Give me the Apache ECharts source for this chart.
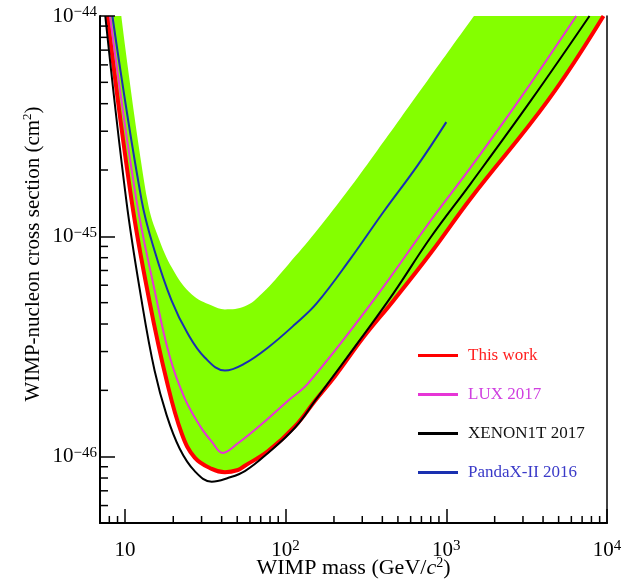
<!DOCTYPE html>
<html>
<head>
<meta charset="utf-8">
<script src="https://cdn.jsdelivr.net/npm/echarts@6/dist/echarts.min.js"></script>
<style>
html,body{margin:0;padding:0;background:#fff;}
#chart{width:625px;height:582px;}
</style>
</head>
<body>
<div id="chart"></div>
<script>
// ---------------- data ----------------
// WIMP mass in GeV/c^2, cross section in cm^2
const thisWorkMass = [7.78, 11.0, 14.2, 18.2, 22.6, 27.2, 34.7, 41.9, 50.5, 55.8, 77.8, 115, 153, 204, 305, 470, 800, 1422, 4305, 9510];
const thisWorkXsec = [1.0e-44, 1.46e-45, 5.1e-46, 2.21e-46, 1.27e-46, 9.9e-47, 8.8e-47, 8.5e-47, 8.7e-47, 9.1e-47, 1.06e-46, 1.38e-46, 1.80e-46, 2.33e-46, 3.48e-46, 5.12e-46, 8.4e-46, 1.49e-45, 4.15e-45, 1.0e-44];

const luxMass = [8.08, 11.8, 15.3, 19.0, 23.5, 29.3, 34.7, 40.6, 50.5, 71.3, 104, 138, 352, 800, 1422, 2837, 6442];
const luxXsec = [1.0e-44, 1.46e-45, 5.7e-46, 2.85e-46, 1.85e-46, 1.38e-46, 1.17e-46, 1.04e-46, 1.15e-46, 1.41e-46, 1.80e-46, 2.15e-46, 5.12e-46, 1.18e-45, 2.06e-45, 4.15e-45, 1.0e-44];

const xenonMass = [7.55, 10.2, 12.7, 15.3, 18.2, 21.9, 27.2, 34.7, 43.7, 55.8, 77.8, 115, 153, 437, 800, 1422, 3374, 7780];
const xenonXsec = [1.0e-44, 1.46e-45, 5.12e-46, 2.46e-46, 1.54e-46, 1.09e-46, 8.6e-47, 7.7e-47, 8.0e-47, 8.6e-47, 1.04e-46, 1.36e-46, 1.80e-46, 5.12e-46, 9.9e-46, 1.74e-45, 4.15e-45, 1.0e-44];

const pandax2016Mass = [8.36, 12.7, 15.3, 19.5, 24.6, 31.4, 41.9, 55.8, 77.8, 115, 156, 253, 406, 663, 1000];
const pandax2016Xsec = [1.0e-44, 1.46e-45, 8.6e-46, 5.12e-46, 3.62e-46, 2.82e-46, 2.46e-46, 2.65e-46, 3.13e-46, 4.0e-46, 4.96e-46, 7.9e-46, 1.29e-45, 2.1e-45, 3.3e-45];

// sensitivity band: upper edge (lower edge follows "This work")
const bandUpperMass = [9.5, 13.8, 16.4, 20.4, 26.1, 34.7, 41.9, 55.8, 71.3, 104, 153, 253, 373, 520, 1486];
const bandUpperXsec = [1.0e-44, 1.46e-45, 9.6e-46, 6.86e-46, 5.45e-46, 4.85e-46, 4.66e-46, 4.81e-46, 5.5e-46, 7.46e-46, 1.04e-45, 1.67e-45, 2.46e-45, 3.44e-45, 1.0e-44];
const bandLowerMass = thisWorkMass;
const bandLowerXsec = thisWorkXsec;

// axis ranges and minor ticks
const X_MIN = 7, X_MAX = 1e4;
const Y_MIN = 5e-47, Y_MAX = 1e-44;
const xMinorTicks = [8, 9, 20, 30, 40, 50, 60, 70, 80, 90, 200, 300, 400, 500, 600, 700, 800, 900, 2000, 3000, 4000, 5000, 6000, 7000, 8000, 9000];
const yMinorTicks = [6e-47, 7e-47, 8e-47, 9e-47, 2e-46, 3e-46, 4e-46, 5e-46, 6e-46, 7e-46, 8e-46, 9e-46, 2e-45, 3e-45, 4e-45, 5e-45, 6e-45, 7e-45, 8e-45, 9e-45];

const legendNames = ['This work', 'LUX 2017', 'XENON1T 2017', 'PandaX-II 2016'];
const lineColors = ['#ff0000', '#e635d6', '#000000', '#1a30b0'];
const legendTextColors = ['#ff2020', '#d040e0', '#111111', '#3a3ac8'];

// ---------------- chart ----------------
const FONT = '"Liberation Serif", "Times New Roman", serif';
const pair = (ms, vs) => ms.map((m, i) => [m, vs[i]]);
// log10(1e-44) is not exactly -44 in floating point; nudge the top bound by a
// negligible amount so the 10^-44 tick falls inside the axis extent
const Y_AXIS_MAX = Y_MAX * 1.000001;

function isPow10(v) {
  if (!(v > 0)) return false;
  const l = Math.log10(v);
  return Math.abs(l - Math.round(l)) < 1e-6;
}

const chart = echarts.init(document.getElementById('chart'), null, { renderer: 'canvas' });

const supRich = {
  b: { fontFamily: FONT, fontSize: 21, color: '#000', lineHeight: 22 },
  s: { fontFamily: FONT, fontSize: 15, color: '#000', lineHeight: 8, verticalAlign: 'top' }
};

const option = {
  animation: false,
  backgroundColor: '#fff',
  grid: { left: 100, right: 18, top: 16, bottom: 59, containLabel: false, outerBoundsMode: 'none' },
  xAxis: [{
    type: 'log', logBase: 10, min: X_MIN, max: X_MAX, z: 10,
    name: '{t|WIMP mass (GeV/}{i|c}{s|2}{t|)}',
    nameLocation: 'middle', nameGap: 33, nameMoveOverlap: false,
    nameTextStyle: {
      rich: {
        t: { fontFamily: FONT, fontSize: 22, color: '#000', lineHeight: 24 },
        i: { fontFamily: FONT, fontSize: 22, fontStyle: 'italic', color: '#000', lineHeight: 24 },
        s: { fontFamily: FONT, fontSize: 14, color: '#000', lineHeight: 10, verticalAlign: 'top' }
      }
    },
    axisLine: { show: true, lineStyle: { color: '#000', width: 2 } },
    axisTick: { show: true, inside: true, length: 14, lineStyle: { color: '#000', width: 1.5 } },
    minorTick: { show: false },
    splitLine: { show: false },
    axisLabel: {
      margin: 16,
      showMinLabel: true, showMaxLabel: true,
      formatter: v => {
        if (!isPow10(v)) return '';
        const e = Math.round(Math.log10(v));
        return e === 1 ? '{b|10}' : '{b|10}{s|' + e + '}';
      },
      rich: supRich
    }
  }, {
    type: 'log', logBase: 10, min: X_MIN, max: X_MAX, position: 'top', z: 10,
    axisLine: { show: true, lineStyle: { color: '#000', width: 1.5 } },
    axisTick: { show: false }, axisLabel: { show: false }, splitLine: { show: false }
  }],
  yAxis: [{
    type: 'log', logBase: 10, min: Y_MIN, max: Y_AXIS_MAX, z: 10,
    axisLine: { show: true, lineStyle: { color: '#000', width: 2 } },
    axisTick: { show: true, inside: true, length: 15, lineStyle: { color: '#000', width: 1.5 } },
    splitLine: { show: false },
    axisLabel: {
      margin: 3, hideOverlap: false,
      showMinLabel: true, showMaxLabel: true,
      formatter: v => {
        if (!isPow10(v)) return '';
        const e = Math.round(Math.log10(v));
        return '{b|10}{s|\u2212' + Math.abs(e) + '}';
      },
      rich: supRich
    }
  }, {
    type: 'log', logBase: 10, min: Y_MIN, max: Y_AXIS_MAX, position: 'right', z: 10,
    axisLine: { show: true, lineStyle: { color: '#000', width: 1.5 } },
    axisTick: { show: false }, axisLabel: { show: false }, splitLine: { show: false }
  }],
  legend: {
    orient: 'vertical', left: 413, top: 342, itemWidth: 40, itemHeight: 3, itemGap: 22,
    icon: 'rect', selectedMode: false,
    textStyle: { fontFamily: FONT, fontSize: 17, padding: [0, 0, 0, 5] },
    data: legendNames.map((n, i) => ({ name: n, textStyle: { color: legendTextColors[i] } }))
  },
  graphic: [{
    type: 'text', x: 33, y: 254, rotation: Math.PI / 2, z: 20,
    style: {
      text: '{t|WIMP-nucleon cross section (cm}{s|2}{t|)}',
      align: 'center', verticalAlign: 'middle',
      rich: {
        t: { fontFamily: FONT, fontSize: 21, fill: '#000', lineHeight: 24 },
        s: { fontFamily: FONT, fontSize: 13, fill: '#000', lineHeight: 10, verticalAlign: 'top' }
      }
    }
  }],
  series: [
    // band: fill from lower edge to top in green, then blank out above the upper edge
    {
      name: 'bandLower', type: 'line', z: 1, silent: true, symbol: 'none', smooth: 0.4,
      data: pair(bandLowerMass, bandLowerXsec),
      lineStyle: { width: 0, opacity: 0 },
      areaStyle: { origin: 'end', color: '#84ff00', opacity: 1 }
    },
    {
      name: 'bandUpper', type: 'line', z: 1, silent: true, symbol: 'none', smooth: 0.4,
      data: pair(bandUpperMass, bandUpperXsec),
      lineStyle: { width: 0, opacity: 0 },
      areaStyle: { origin: 'end', color: '#ffffff', opacity: 1 }
    },
    {
      name: legendNames[0], type: 'line', z: 3, symbol: 'none', smooth: 0.4, color: lineColors[0],
      data: pair(thisWorkMass, thisWorkXsec), lineStyle: { width: 4, color: lineColors[0] }
    },
    {
      name: legendNames[1], type: 'line', z: 4, symbol: 'none', smooth: 0.4, color: lineColors[1],
      data: pair(luxMass, luxXsec), lineStyle: { width: 2, color: lineColors[1] }
    },
    {
      name: legendNames[2], type: 'line', z: 5, symbol: 'none', smooth: 0.4, color: lineColors[2],
      data: pair(xenonMass, xenonXsec), lineStyle: { width: 2, color: lineColors[2] }
    },
    {
      name: legendNames[3], type: 'line', z: 5, symbol: 'none', smooth: 0.4, color: lineColors[3],
      data: pair(pandax2016Mass, pandax2016Xsec), lineStyle: { width: 2, color: lineColors[3] }
    },
    // minor ticks drawn through the axes' own scales
    {
      type: 'custom', coordinateSystem: 'cartesian2d', silent: true, z: 11, clip: false,
      data: xMinorTicks.map(v => [v, Y_MIN]),
      renderItem: (p, api) => {
        const c = api.coord([api.value(0), api.value(1)]);
        return { type: 'line', shape: { x1: c[0], y1: c[1], x2: c[0], y2: c[1] - 7 }, style: { stroke: '#000', lineWidth: 1.5 } };
      }
    },
    {
      type: 'custom', coordinateSystem: 'cartesian2d', silent: true, z: 11, clip: false,
      data: yMinorTicks.map(v => [X_MIN, v]),
      renderItem: (p, api) => {
        const c = api.coord([api.value(0), api.value(1)]);
        return { type: 'line', shape: { x1: c[0], y1: c[1], x2: c[0] + 8, y2: c[1] }, style: { stroke: '#000', lineWidth: 1.5 } };
      }
    }
  ]
};

chart.setOption(option);
</script>
</body>
</html>
